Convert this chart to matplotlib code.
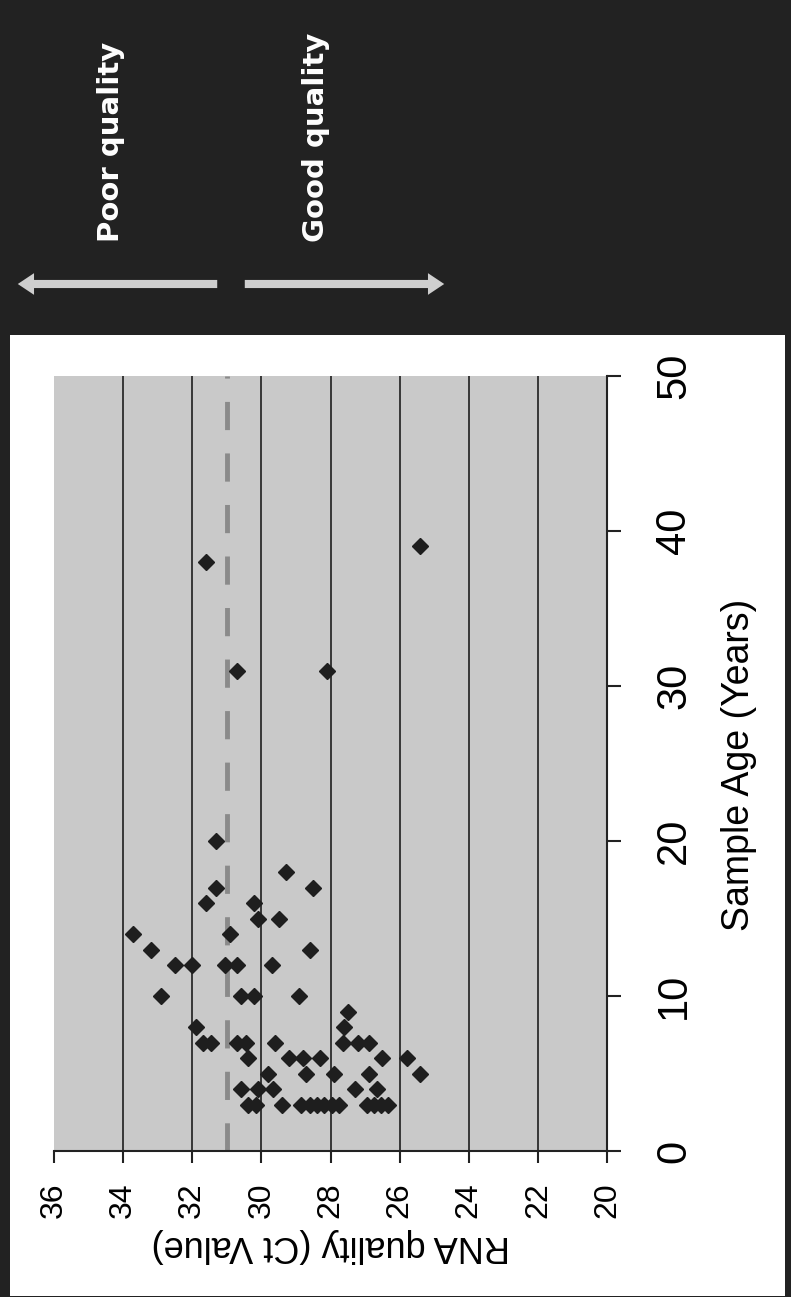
import matplotlib
matplotlib.use("Agg")
import matplotlib.pyplot as plt
from matplotlib.patches import Rectangle, FancyArrowPatch

age_years = [38, 39, 31, 31, 20, 18, 17, 17, 16, 16, 15, 15, 14, 14, 13, 13,
             12, 12, 12, 12, 12, 10, 10, 10, 10, 9, 8, 8,
             7, 7, 7, 7, 7, 7, 7, 7,
             6, 6, 6, 6, 6, 6,
             5, 5, 5, 5, 5,
             4, 4, 4, 4, 4,
             3, 3, 3, 3, 3, 3, 3, 3, 3, 3, 3, 3, 3]
ct_values = [31.6, 25.4, 30.7, 28.1, 31.3, 29.3, 28.5, 31.3, 31.6, 30.2, 30.1, 29.5, 33.7, 30.9, 33.2, 28.6,
             32.5, 32.0, 31.05, 30.7, 29.7, 32.9, 30.6, 30.2, 28.9, 27.5, 31.9, 27.6,
             31.7, 31.45, 30.7, 30.45, 29.6, 27.65, 27.2, 26.9,
             30.4, 29.2, 28.8, 28.3, 26.5, 25.8,
             29.8, 28.7, 27.9, 26.9, 25.4,
             30.6, 30.1, 29.65, 27.3, 26.65,
             30.4, 30.15, 29.4, 28.85, 28.6, 28.4, 28.2, 27.95, 27.75, 26.95, 26.75, 26.55, 26.35]

ct_ticks = [36, 34, 32, 30, 28, 26, 24, 22, 20]
ct_grid = [34, 32, 30, 28, 26, 24, 22]
age_ticks = [0, 10, 20, 30, 40, 50]
ct_cutoff = 31

W, H = 791, 1297
fig = plt.figure(figsize=(W / 100, H / 100), dpi=100, facecolor="#222222")

# white panel holding the chart
fig.patches.append(Rectangle((10 / W, 1 - 1296 / H), 775 / W, 961 / H,
                             transform=fig.transFigure, facecolor="white",
                             edgecolor="none", zorder=-10))

ax = fig.add_axes([54 / W, (H - 1151) / H, 553 / W, 775 / H])
ax.set_facecolor("#c9c9c9")
ax.set_xlim(36, 20)
ax.set_ylim(0, 50)

for c in ct_grid:
    ax.axvline(c, color="#2b2b2b", lw=1.3, zorder=1)
ax.axvline(ct_cutoff, color="#8a8a8a", lw=3.5, dashes=(5.8, 4.8), zorder=2)

ax.plot(ct_values, age_years, "D", ms=8.3, color="#1e1e1e", ls="none", zorder=3)

ax.spines["top"].set_visible(False)
ax.spines["left"].set_visible(False)
for s in ["right", "bottom"]:
    ax.spines[s].set_color("#222222")
    ax.spines[s].set_linewidth(1.5)

ax.set_xticks(ct_ticks)
ax.set_xticklabels([str(t) for t in ct_ticks], rotation=90,
                   fontsize=23, family="Liberation Sans")
ax.yaxis.tick_right()
ax.set_yticks(age_ticks)
ax.set_yticklabels([str(t) for t in age_ticks], rotation=90,
                   fontsize=30, family="Liberation Sans", va="center")
ax.tick_params(axis="x", length=8.6, width=1.5, color="#222222", pad=14)
ax.tick_params(axis="y", length=10, width=1.5, color="#222222", pad=24)

ax.set_xlabel("RNA quality (Ct Value)", fontsize=26, family="Liberation Sans",
              rotation=180, va="center", ha="center")
ax.xaxis.set_label_coords(0.5, (1151 - 1245) / 775)
ax.yaxis.set_label_position("right")
ax.set_ylabel("Sample Age (Years)", fontsize=27, family="Liberation Sans",
              rotation=90, va="center", ha="center")
ax.yaxis.set_label_coords((739 - 54) / 553, (1151 - 765) / 775)

# top panel: quality direction labels and arrows
fig.text(111 / W, 1 - 242 / H, "Poor quality", rotation=90, color="white",
         fontsize=21, fontweight="bold", family="DejaVu Sans", ha="center", va="bottom")
fig.text(316 / W, 1 - 242 / H, "Good quality", rotation=90, color="white",
         fontsize=21, fontweight="bold", family="DejaVu Sans", ha="center", va="bottom")

arrow_style = "simple,head_length=0.9,head_width=1.2,tail_width=0.45"
fig.add_artist(FancyArrowPatch((220 / W, 1 - 284 / H), (15 / W, 1 - 284 / H),
                               transform=fig.transFigure, arrowstyle=arrow_style,
                               mutation_scale=13, color="#cfcfcf", lw=0))
fig.add_artist(FancyArrowPatch((242 / W, 1 - 284 / H), (447 / W, 1 - 284 / H),
                               transform=fig.transFigure, arrowstyle=arrow_style,
                               mutation_scale=13, color="#cfcfcf", lw=0))

fig.savefig("out.png", dpi=100, facecolor=fig.get_facecolor())
